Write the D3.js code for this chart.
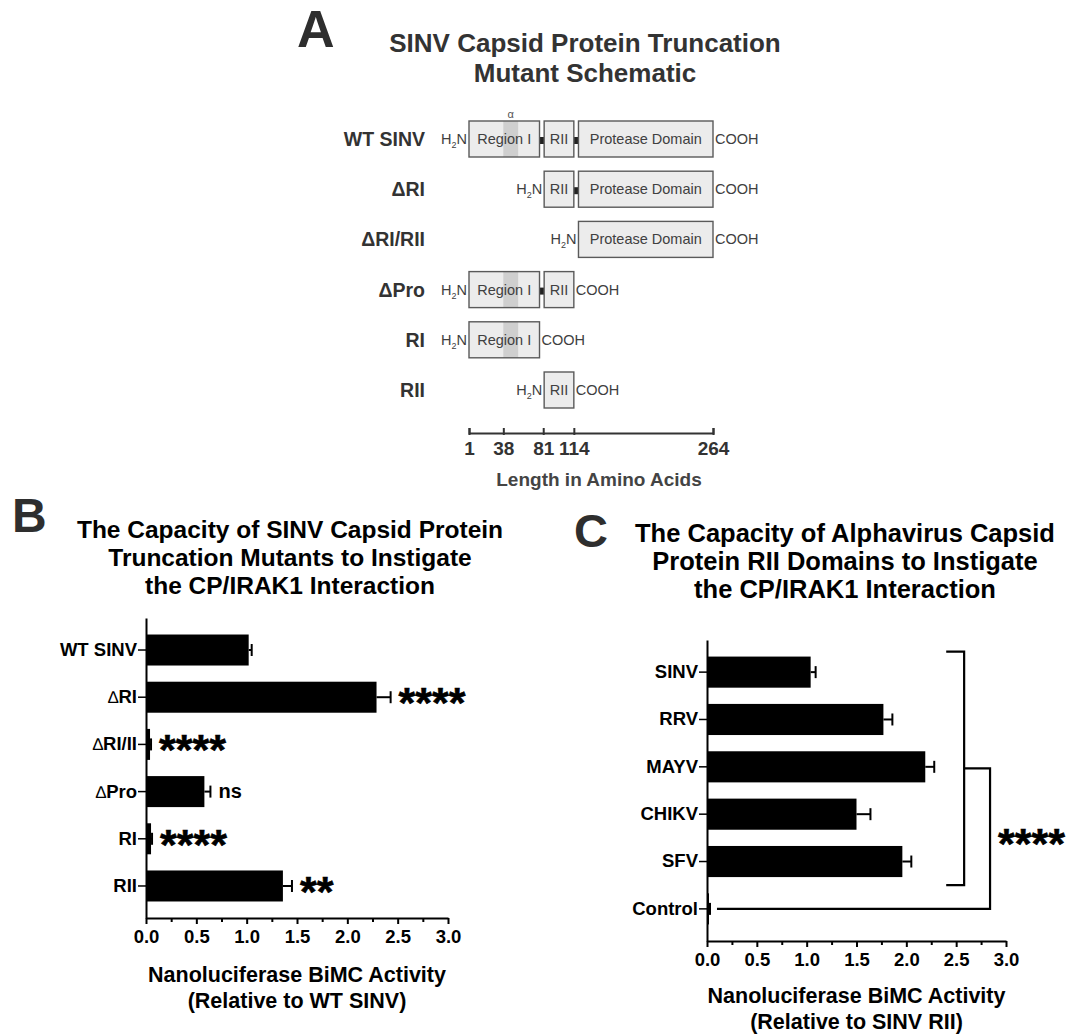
<!DOCTYPE html>
<html>
<head>
<meta charset="utf-8">
<script src="https://cdn.jsdelivr.net/npm/d3@7"></script>
<style>
  html, body { margin: 0; padding: 0; background: #fff; }
  svg { display: block; }
  text { font-family: "Liberation Sans", Arial, Helvetica, sans-serif; }
</style>
</head>
<body>
<svg id="fig" width="1073" height="1036"></svg>
<script>
// ---------- Panel A: capsid protein truncation constructs ----------
const constructs = ["WT SINV", "ΔRI", "ΔRI/RII", "ΔPro", "RI", "RII"];
const domainNames = ["Region I", "RII", "Protease Domain"];
const domainStart = [1, 82, 119];
const domainEnd = [77, 114, 264];
// which domains (by index) each construct keeps
const constructDomains = [[0, 1, 2], [1, 2], [2], [0, 1], [0], [1]];
const helixRange = [38, 54];
const aaTicks = [1, 38, 81, 114, 264];

// ---------- Panel B: truncation mutants BiMC ----------
const mutantLabels = ["WT SINV", "ΔRI", "ΔRI/II", "ΔPro", "RI", "RII"];
const mutantMeans = [1.02, 2.29, 0.04, 0.58, 0.05, 1.36];
const mutantErr = [0.03, 0.14, 0.01, 0.06, 0.01, 0.09];
const mutantSig = ["", "****", "****", "ns", "****", "**"];

// ---------- Panel C: alphavirus RII domains BiMC ----------
const virusLabels = ["SINV", "RRV", "MAYV", "CHIKV", "SFV", "Control"];
const virusMeans = [1.04, 1.77, 2.19, 1.50, 1.96, 0.02];
const virusErr = [0.05, 0.09, 0.09, 0.14, 0.09, 0.01];
const groupBracket = { from: "SINV", to: "SFV", control: "Control", x: 2.58, xLink: 2.84, xTick: 2.40, xEnd: 0.10, label: "****" };

const activityTicks = [0, 0.5, 1, 1.5, 2, 2.5, 3];
const activityMinor = [0.25, 0.75, 1.25, 1.75, 2.25, 2.75];

const svg = d3.select("#fig");

function letter(t, x, y, size) {
  svg.append("text").attr("x", x).attr("y", y)
    .attr("font-size", size).attr("font-weight", 700).attr("fill", "#2e2e2e").text(t);
}
function titleLines(lines, cx, y0, step, size, color) {
  const t = svg.append("text").attr("text-anchor", "middle")
    .attr("font-size", size).attr("font-weight", 700).attr("fill", color);
  lines.forEach((l, i) => t.append("tspan").attr("x", cx).attr("y", y0 + i * step).text(l));
}

// ===================== Panel A =====================
letter("A", 297, 47, 52);
titleLines(["SINV Capsid Protein Truncation", "Mutant Schematic"], 585, 52, 30, 26, "#333");

const xA = d3.scaleLinear().domain([1, 264]).range([469, 713]);
const yA = d3.scalePoint().domain(constructs).range([139, 390]);
const boxH = 36;
const gA = svg.append("g");

constructs.forEach((name, i) => {
  const cy = yA(name);
  const doms = constructDomains[i];
  gA.append("text").attr("x", 425).attr("y", cy + 7).attr("text-anchor", "end")
    .attr("font-size", 19.5).attr("font-weight", 700).attr("fill", "#333").text(name);

  // connectors between adjacent kept domains
  for (let k = 0; k < doms.length - 1; k++) {
    const a = doms[k], b = doms[k + 1];
    gA.append("rect").attr("x", xA(domainEnd[a])).attr("y", cy - 2)
      .attr("width", xA(domainStart[b]) - xA(domainEnd[a])).attr("height", 7)
      .attr("fill", "#222");
  }

  doms.forEach(d => {
    const x0 = xA(domainStart[d]), x1 = xA(domainEnd[d]);
    gA.append("rect").attr("x", x0).attr("y", cy - boxH / 2).attr("width", x1 - x0).attr("height", boxH)
      .attr("fill", "#ececec");
    if (d === 0) {
      gA.append("rect").attr("x", xA(helixRange[0])).attr("y", cy - boxH / 2)
        .attr("width", xA(helixRange[1]) - xA(helixRange[0])).attr("height", boxH)
        .attr("fill", "#cfcfcf");
    }
    gA.append("rect").attr("x", x0).attr("y", cy - boxH / 2).attr("width", x1 - x0).attr("height", boxH)
      .attr("fill", "none").attr("stroke", "#5a5a5a").attr("stroke-width", 1.4);
    gA.append("text").attr("x", (x0 + x1) / 2).attr("y", cy + 5).attr("text-anchor", "middle")
      .attr("font-size", 14.5).attr("fill", "#404040").text(domainNames[d]);
  });

  if (i === 0) {
    gA.append("text").attr("x", (xA(helixRange[0]) + xA(helixRange[1])) / 2).attr("y", cy - 21)
      .attr("text-anchor", "middle").attr("font-size", 11).attr("fill", "#555").text("α");
  }

  // termini
  const nX = xA(domainStart[doms[0]]) - 2;
  const nt = gA.append("text").attr("x", nX).attr("y", cy + 5).attr("text-anchor", "end")
    .attr("font-size", 14.5).attr("fill", "#404040");
  nt.append("tspan").text("H");
  nt.append("tspan").attr("font-size", 9).attr("dy", 4).text("2");
  nt.append("tspan").attr("dy", -4).text("N");
  gA.append("text").attr("x", xA(domainEnd[doms[doms.length - 1]]) + 2).attr("y", cy + 5)
    .attr("font-size", 14.5).attr("fill", "#404040").text("COOH");
});

const axA = gA.append("g").attr("transform", "translate(0,433)")
  .call(d3.axisBottom(xA).tickValues(aaTicks).tickSizeInner(-5).tickSizeOuter(-5).tickPadding(8.5).tickFormat(d3.format("d")));
axA.select(".domain").attr("stroke", "#333").attr("stroke-width", 2);
axA.selectAll(".tick line").attr("stroke", "#333").attr("stroke-width", 2).attr("y1", 2);
axA.selectAll(".tick text").attr("font-size", 19).attr("font-weight", 700).attr("fill", "#333")
  .attr("font-family", '"Liberation Sans", Arial, sans-serif');
gA.append("text").attr("x", 599).attr("y", 486).attr("text-anchor", "middle")
  .attr("font-size", 19).attr("font-weight", 700).attr("fill", "#444").text("Length in Amino Acids");

// ===================== shared bar chart drawing =====================
function barPanel(opt) {
  const x = d3.scaleLinear().domain([0, 3]).range(opt.xRange);
  const y = d3.scaleBand().domain(opt.labels).range(opt.yRange).paddingInner(0.343).paddingOuter(0.35);
  const g = svg.append("g");
  const bw = y.bandwidth();

  g.selectAll("rect.bar").data(opt.labels).join("rect").attr("class", "bar")
    .attr("x", x(0)).attr("y", d => y(d))
    .attr("width", (d, i) => x(opt.means[i]) - x(0)).attr("height", bw).attr("fill", "#000");

  // one-sided error bars
  opt.labels.forEach((l, i) => {
    const cy = y(l) + bw / 2;
    const xe = x(opt.means[i] + opt.errs[i]);
    g.append("line").attr("x1", x(opt.means[i])).attr("x2", xe).attr("y1", cy).attr("y2", cy)
      .attr("stroke", "#000").attr("stroke-width", 2);
    g.append("line").attr("x1", xe).attr("x2", xe).attr("y1", cy - 6).attr("y2", cy + 6)
      .attr("stroke", "#000").attr("stroke-width", 2);
  });

  // x axis with minor ticks
  const xAxisY = opt.yRange[1];
  const minor = g.append("g").attr("transform", `translate(0,${xAxisY})`)
    .call(d3.axisBottom(x).tickValues(activityMinor).tickSize(4).tickFormat(""));
  minor.select(".domain").remove();
  minor.selectAll("line").attr("stroke-width", 2);
  const xa = g.append("g").attr("transform", `translate(0,${xAxisY})`)
    .call(d3.axisBottom(x).tickValues(activityTicks).tickSizeInner(6).tickSizeOuter(0).tickPadding(6).tickFormat(d3.format(".1f")));
  xa.select(".domain").attr("stroke-width", 2);
  xa.selectAll(".tick line").attr("stroke-width", 2);
  xa.selectAll(".tick text").attr("font-size", 18.5).attr("font-weight", 700).attr("fill", "#000")
    .attr("font-family", '"Liberation Sans", Arial, sans-serif');

  // y axis
  const ya = g.append("g").attr("transform", `translate(${x(0)},0)`)
    .call(d3.axisLeft(y).tickSizeInner(8).tickSizeOuter(0).tickPadding(1));
  ya.select(".domain").attr("stroke-width", 2);
  ya.selectAll(".tick line").attr("stroke-width", 1.5);
  ya.selectAll(".tick text").each(function (d) {
    const t = d3.select(this).text("")
      .attr("font-size", 18.5).attr("font-weight", 700).attr("fill", "#000")
      .attr("font-family", '"Liberation Sans", Arial, sans-serif');
    if (d.startsWith("Δ")) {
      t.append("tspan").attr("font-weight", 400).attr("font-size", 17).text("∆");
      t.append("tspan").text(d.slice(1));
    } else {
      t.text(d);
    }
  });

  // axis title
  const at = g.append("text").attr("text-anchor", "middle").attr("font-size", 21.5)
    .attr("font-weight", 700).attr("fill", "#000");
  const cx = (opt.xRange[0] + opt.xRange[1]) / 2;
  opt.axisTitle.forEach((l, i) => at.append("tspan").attr("x", cx).attr("y", opt.axisTitleY + i * 26).text(l));

  return { x, y, g, bw };
}

// significance marks, vertically centred on the given row
function stars(g, txt, x, cy) {
  const isStar = txt.includes("*");
  const fs = isStar ? 43 : 20;
  g.append("text").attr("x", x).attr("y", isStar ? cy + 0.46 * fs : cy + 6)
    .attr("font-size", fs).attr("font-weight", 700).attr("fill", "#000")
    .attr("stroke", isStar ? "#000" : "none").attr("stroke-width", 0.6).text(txt);
}

// ===================== Panel B =====================
letter("B", 12, 532, 48);
titleLines(["The Capacity of SINV Capsid Protein", "Truncation Mutants to Instigate", "the CP/IRAK1 Interaction"], 290, 538, 28, 24.5, "#000");

const pB = barPanel({
  labels: mutantLabels, means: mutantMeans, errs: mutantErr,
  xRange: [146, 448], yRange: [618, 918],
  axisTitle: ["Nanoluciferase BiMC Activity", "(Relative to WT SINV)"], axisTitleY: 982
});
mutantLabels.forEach((l, i) => {
  if (!mutantSig[i]) return;
  stars(pB.g, mutantSig[i], pB.x(mutantMeans[i] + mutantErr[i]) + 8, pB.y(l) + pB.bw / 2);
});

// ===================== Panel C =====================
letter("C", 574, 547, 47);
titleLines(["The Capacity of Alphavirus Capsid", "Protein RII Domains to Instigate", "the CP/IRAK1 Interaction"], 845, 542, 28, 25.5, "#000");

const pC = barPanel({
  labels: virusLabels, means: virusMeans, errs: virusErr,
  xRange: [707, 1006], yRange: [640, 941],
  axisTitle: ["Nanoluciferase BiMC Activity", "(Relative to SINV RII)"], axisTitleY: 1003
});

// significance bracket: all viral RII domains vs. control
{
  const { x, y, g, bw } = pC;
  const yTop = y(groupBracket.from) - 5;
  const yBot = y(groupBracket.to) + bw + 8;
  const yMid = (yTop + yBot) / 2;
  const yCtrl = y(groupBracket.control) + bw / 2;
  g.append("path")
    .attr("d", `M${x(groupBracket.xTick)},${yTop}H${x(groupBracket.x)}V${yBot}H${x(groupBracket.xTick)}`)
    .attr("fill", "none").attr("stroke", "#000").attr("stroke-width", 2.2);
  g.append("path")
    .attr("d", `M${x(groupBracket.x)},${yMid}H${x(groupBracket.xLink)}V${yCtrl}H${x(groupBracket.xEnd)}`)
    .attr("fill", "none").attr("stroke", "#000").attr("stroke-width", 2.2);
  stars(g, groupBracket.label, x(groupBracket.xLink) + 8, (yMid + yCtrl) / 2);
}
</script>
</body>
</html>
